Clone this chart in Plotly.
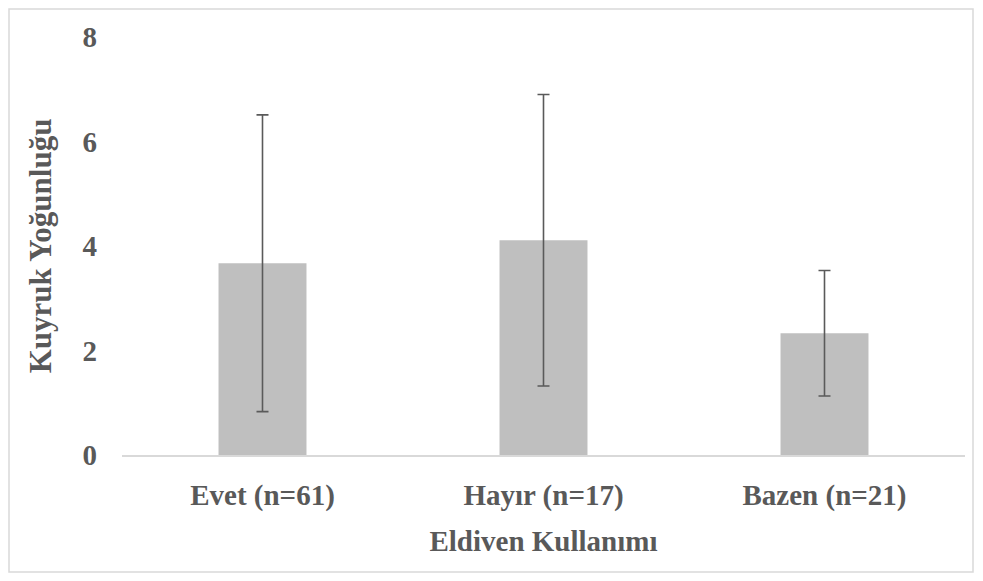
import plotly.graph_objects as go

categories = ["Evet (n=61)", "Hayır (n=17)", "Bazen (n=21)"]
means = [3.67, 4.11, 2.33]
sds = [2.84, 2.79, 1.20]
y_ticks = [0, 2, 4, 6, 8]

FONT = "Liberation Serif"
TXT = "#595959"
FS = 29

# page has an 8px body margin; build the figure so that page coords match
W, H = 967, 565
PL, PR, PT, PB = 122 - 8, 965 - 8, 37 - 8, 455 - 8  # plot area in figure px

fig = go.Figure(
    go.Bar(
        x=categories,
        y=means,
        marker=dict(color="#bfbfbf", line=dict(width=0)),
        error_y=dict(type="data", array=sds, visible=True,
                     color="#5a5a5a", thickness=1.6, width=6),
        width=0.313,
    )
)

pw, ph = PR - PL, PB - PT
fig.update_layout(
    width=W, height=H,
    margin=dict(l=PL, r=W - PR, t=PT, b=H - PB, autoexpand=False),
    paper_bgcolor="white", plot_bgcolor="white",
    showlegend=False,
    font=dict(family=FONT, color=TXT, size=FS),
    xaxis=dict(
        showline=True, linecolor="#d9d9d9", linewidth=1.5,
        ticks="", showgrid=False, ticklabelstandoff=13,
        tickfont=dict(family=FONT, size=FS, color=TXT, weight="bold"),
        title=dict(text="<b>Eldiven Kullanımı</b>", standoff=20,
                   font=dict(family=FONT, size=FS, color=TXT)),
    ),
    yaxis=dict(
        range=[0, 8], tickvals=y_ticks, showgrid=False, zeroline=False,
        showline=False, ticks="",
        ticklabelstandoff=24,
        tickfont=dict(family=FONT, size=FS, color=TXT, weight="bold"),
        title=dict(text="<b>Kuyruk Yoğunluğu</b>", standoff=21,
                   font=dict(family=FONT, size=31, color=TXT)),
    ),
    shapes=[dict(type="rect", xref="paper", yref="paper",
                 x0=(9 - 8 - PL) / pw, x1=(973 - 8 - PL) / pw,
                 y0=-((572 - 8) - PB) / ph, y1=(PB - (9 - 8)) / ph,
                 line=dict(color="#d9d9d9", width=1.5), fillcolor="rgba(0,0,0,0)",
                 layer="below")],
)

fig.write_html("out.html")
